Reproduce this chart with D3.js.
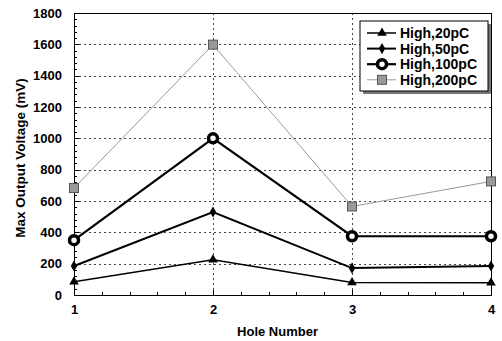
<!DOCTYPE html>
<meta charset="utf-8">
<style>
body { margin: 0; background: #fff; }
svg text { font-family: "Liberation Sans", Arial, sans-serif; font-weight: bold; fill: #000; }
.axis path, .axis line { stroke: #000; shape-rendering: crispEdges; }
.grid line { stroke: #444; stroke-dasharray: 2,3; stroke-width: 1; shape-rendering: crispEdges; }
.grid path { display: none; }
</style>
<svg width="502" height="341"></svg>
<script src="https://cdn.jsdelivr.net/npm/d3@7"></script>
<script>

var holes = [1, 2, 3, 4];
var seriesNames = ["High,20pC", "High,50pC", "High,100pC", "High,200pC"];
var high20 = [85, 225, 80, 78];
var high50 = [185, 530, 172, 185];
var high100 = [350, 1000, 375, 375];
var high200 = [683, 1598, 565, 725];
var yTicks = [0, 200, 400, 600, 800, 1000, 1200, 1400, 1600, 1800];

var svg = d3.select("svg"),
    margin = {top: 13, right: 11, bottom: 46, left: 74},
    width = +svg.attr("width") - margin.left - margin.right,
    height = +svg.attr("height") - margin.top - margin.bottom;

var x = d3.scaleLinear().domain([1, 4]).range([0, width]),
    y = d3.scaleLinear().domain([0, 1800]).range([height, 0]);

var g = svg.append("g")
    .attr("transform", "translate(" + margin.left + "," + margin.top + ")");

// grid
g.append("g").attr("class", "grid")
    .call(d3.axisLeft(y).tickValues(yTicks.slice(1, -1)).tickSize(-width).tickFormat(""));
g.append("g").attr("class", "grid")
    .attr("transform", "translate(0," + height + ")")
    .call(d3.axisBottom(x).tickValues([2, 3]).tickSize(height).tickFormat(""))
  .selectAll("line").attr("y2", -height);

// minor ticks
g.append("g").attr("class", "axis")
    .call(d3.axisLeft(y).tickValues(d3.range(0, 1801, 40)).tickSize(-3).tickFormat(""))
  .select("path").remove();
g.append("g").attr("class", "axis")
    .attr("transform", "translate(0," + height + ")")
    .call(d3.axisBottom(x).tickValues(d3.range(1, 4.01, 0.2)).tickSize(-3).tickFormat(""))
  .select("path").remove();

// frame
g.append("rect").attr("width", width).attr("height", height)
    .attr("fill", "none").attr("stroke", "#000").attr("stroke-width", 1)
    .attr("shape-rendering", "crispEdges");

var yAxis = g.append("g").attr("class", "axis")
    .call(d3.axisLeft(y).tickValues(yTicks).tickFormat(d3.format("d")).tickSize(-5).tickPadding(12));
yAxis.selectAll("text").style("font-size", "13px");

var xAxis = g.append("g").attr("class", "axis")
    .attr("transform", "translate(0," + height + ")")
    .call(d3.axisBottom(x).tickValues(holes).tickFormat(d3.format("d")).tickSize(-5).tickPadding(10));
xAxis.selectAll("text").style("font-size", "13px");

g.append("text")
    .attr("x", width / 2 - 5).attr("y", height + 41)
    .attr("text-anchor", "middle").style("font-size", "13px")
    .text("Hole Number");

g.append("text")
    .attr("transform", "rotate(-90)")
    .attr("x", -height / 2 - 4).attr("y", -49)
    .attr("text-anchor", "middle").style("font-size", "13.5px")
    .text("Max Output Voltage (mV)");

var series = [
  {name: seriesNames[0], values: high20, color: "#000", width: 1.5, marker: "triangle"},
  {name: seriesNames[1], values: high50, color: "#000", width: 2, marker: "diamond"},
  {name: seriesNames[2], values: high100, color: "#000", width: 2.2, marker: "circle"},
  {name: seriesNames[3], values: high200, color: "#999", width: 1, marker: "square"}
];

var line = d3.line()
    .x(function(d, i) { return x(holes[i]); })
    .y(function(d) { return y(d); });

function drawMarker(sel, s) {
  if (s.marker === "triangle") {
    sel.append("path").attr("d", d3.symbol(d3.symbolTriangle, 40)())
      .attr("fill", "#000");
  } else if (s.marker === "diamond") {
    sel.append("path").attr("d", d3.symbol(d3.symbolDiamond, 36)())
      .attr("fill", "#000");
  } else if (s.marker === "circle") {
    sel.append("circle").attr("r", 4.5)
      .attr("fill", "#fff").attr("stroke", "#000").attr("stroke-width", 3.5);
  } else {
    sel.append("rect").attr("x", -4.5).attr("y", -4.5).attr("width", 9).attr("height", 9)
      .attr("fill", "#999").attr("stroke", "#555").attr("stroke-width", 1);
  }
}

series.forEach(function(s) {
  g.append("path").datum(s.values)
      .attr("fill", "none")
      .attr("stroke", s.color)
      .attr("stroke-width", s.width)
      .attr("d", line);
  s.values.forEach(function(v, i) {
    var m = g.append("g").attr("transform", "translate(" + x(holes[i]) + "," + y(v) + ")");
    drawMarker(m, s);
  });
});

// legend
var lg = svg.append("g").attr("transform", "translate(360,21)");
lg.append("rect").attr("x", 3).attr("y", 3).attr("width", 128).attr("height", 70).attr("fill", "#777");
lg.append("rect").attr("width", 128).attr("height", 70)
    .attr("fill", "#fff").attr("stroke", "#000").attr("stroke-width", 1);
series.forEach(function(s, i) {
  var row = lg.append("g").attr("transform", "translate(0," + (12 + i * 15.6) + ")");
  row.append("line").attr("x1", 7).attr("x2", 36)
      .attr("stroke", s.color).attr("stroke-width", s.width);
  drawMarker(row.append("g").attr("transform", "translate(22,0)"), s);
  row.append("text").attr("x", 40).attr("y", 5)
      .style("font-size", "14px").text(s.name);
});

</script>
